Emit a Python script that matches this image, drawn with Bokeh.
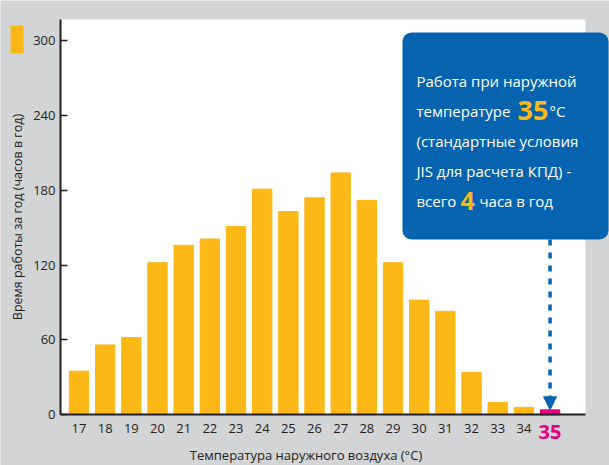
from bokeh.plotting import figure
from bokeh.models import BoxAnnotation, Label, Arrow, NormalHead, FixedTicker, Range1d
from bokeh.embed import file_html
from bokeh.resources import INLINE

# ---- data ----
temps = [17, 18, 19, 20, 21, 22, 23, 24, 25, 26, 27, 28, 29, 30, 31, 32, 33, 34, 35]
hours = [35, 56, 62, 122, 136, 141, 151, 181, 163, 174, 194, 172, 122, 92, 83, 34, 10, 6, 4]
y_ticks = [0, 60, 120, 180, 240, 300]
highlight_temp = 35
highlight_hours = 4

ORANGE = "#fbb817"
MAGENTA = "#e5007e"
BLUE = "#0563af"
GRAY = "#d3d4d6"
DARK = "#231f20"
FONT = "Open Sans"

W, H = 609, 465
# ---- layout (canvas pixel <-> data) ----
PXX = 26.17          # pixels per degree
PXY = 1.2467         # pixels per hour
X_AT0 = 17 - 78.5 / PXX          # data x at canvas left edge
Y_AXIS_PX = 414.3                # canvas y of the zero line


def dx(px):
    return X_AT0 + px / PXX


def dy(py):
    return (Y_AXIS_PX - py) / PXY


PL, PR, PT, PB = 60, 585, 19, 414   # white plot area

p = figure(width=W, height=H, output_backend="svg", toolbar_location=None,
           x_range=Range1d(dx(0), dx(W)), y_range=Range1d(dy(H), dy(0)),
           min_border_left=0, min_border_right=0, min_border_top=0, min_border_bottom=0)
p.background_fill_color = GRAY
p.border_fill_color = GRAY
p.outline_line_color = None
p.grid.visible = False

# white plotting area
p.add_layout(BoxAnnotation(left=dx(PL), right=dx(PR), top=dy(PT), bottom=0,
                           fill_color="white", fill_alpha=1, line_color=None, level="underlay"))

colors = [MAGENTA if t == highlight_temp else ORANGE for t in temps]
p.vbar(x=temps, top=hours, width=0.74, color=colors)

# y axis
ya = p.yaxis[0]
ya.fixed_location = dx(PL)
ya.bounds = (0, dy(PT))
ya.ticker = FixedTicker(ticks=y_ticks)
ya.major_tick_in = 7
ya.major_tick_out = 0
ya.minor_tick_line_color = None
ya.major_tick_line_width = 1.5
ya.major_tick_line_color = DARK
ya.axis_line_width = 2
ya.axis_line_color = DARK
ya.major_label_text_font = FONT
ya.major_label_text_font_size = "13px"
ya.major_label_text_color = DARK
ya.major_label_standoff = 5
ya.axis_label = "Время работы за год (часов в год)"
ya.axis_label_text_font = FONT
ya.axis_label_text_font_size = "12.5px"
ya.axis_label_text_font_style = "normal"
ya.axis_label_text_color = DARK
ya.axis_label_standoff = 4

# x axis
xa = p.xaxis[0]
xa.fixed_location = 0
xa.bounds = (dx(PL), dx(PR))
xa.ticker = FixedTicker(ticks=[t for t in temps if t != highlight_temp])
xa.major_tick_in = 0
xa.major_tick_out = 0
xa.minor_tick_line_color = None
xa.axis_line_width = 2
xa.axis_line_color = DARK
xa.major_label_text_font = FONT
xa.major_label_text_font_size = "13px"
xa.major_label_text_color = DARK
xa.major_label_standoff = 9

# highlighted tick label
p.add_layout(Label(x=highlight_temp, y=dy(431), text=str(highlight_temp), text_align="center",
                   text_baseline="middle", text_font=FONT, text_font_size="20px",
                   text_font_style="bold", text_color=MAGENTA))

# x axis title
p.add_layout(Label(x=dx(305.5), y=dy(454), text="Температура наружного воздуха (°C)",
                   text_align="center", text_baseline="middle", text_font=FONT,
                   text_font_size="13px", text_color=DARK))

# legend swatch
p.add_layout(BoxAnnotation(left=dx(10), right=dx(23), top=dy(25), bottom=dy(53),
                           fill_color=ORANGE, fill_alpha=1, line_color=None))

# dashed arrow to the highlighted bar
p.add_layout(Arrow(x_start=highlight_temp, y_start=dy(239), x_end=highlight_temp, y_end=highlight_hours,
                   line_color=BLUE, line_width=3.5, line_dash="6 7",
                   end=NormalHead(size=13, fill_color=BLUE, line_color=BLUE, line_width=1)))

# callout box
p.add_layout(BoxAnnotation(left=dx(402), right=dx(608), top=dy(32), bottom=dy(239),
                           fill_color=BLUE, fill_alpha=1, line_color=None, border_radius=9))


def txt(px, py, s, size="15px", color="white", bold=False):
    p.add_layout(Label(x=dx(px), y=dy(py), text=s, text_align="left", text_baseline="alphabetic",
                       text_font=FONT, text_font_size=size, text_color=color,
                       text_font_style="bold" if bold else "normal"))


TX = 416
txt(TX, 80.5, "Работа при наружной")
txt(TX, 110, "температуре")
txt(517, 110, str(highlight_temp), size="27px", color=ORANGE, bold=True)
txt(549, 110, "°C")
txt(TX, 140, "(стандартные условия")
txt(TX, 170, "JIS для расчета КПД) -")
txt(TX, 200, "всего")
txt(460, 200, str(highlight_hours), size="25px", color=ORANGE, bold=True)
txt(479, 200, "часа в год")

html = file_html(p, INLINE)
html = html.replace("<body>", '<body style="background:%s">' % GRAY, 1)
open("out.html", "w").write(html)
